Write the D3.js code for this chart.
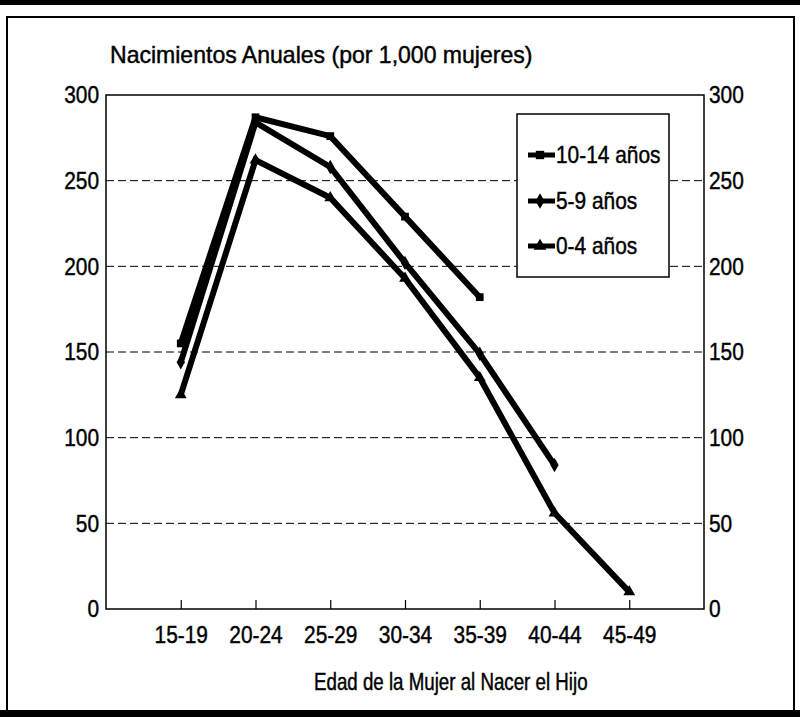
<!DOCTYPE html>
<html><head><meta charset="utf-8">
<script src="https://cdn.jsdelivr.net/npm/d3@7"></script>
<style>body{margin:0;background:#fff}svg{display:block}text{font-family:"Liberation Sans","Arial",sans-serif;fill:#000;stroke:#000;stroke-width:0.45px}</style>
</head><body>
<script>
const categories = ["15-19","20-24","25-29","30-34","35-39","40-44","45-49"];
const s10_14 = [155, 287, 276, 229, 182];
const s5_9 = [144, 284, 258, 202, 149, 84];
const s0_4 = [125, 262, 240, 193, 135, 56, 10];
const yTicks = [0, 50, 100, 150, 200, 250, 300];
const seriesNames = ["10-14 años", "5-9 años", "0-4 años"];
const titleText = "Nacimientos Anuales (por 1,000 mujeres)";
const xTitleText = "Edad de la Mujer al Nacer el Hijo";

const W = 800, H = 717, FS = 24, SX = 0.87;
const svg = d3.select("body").append("svg").attr("width", W).attr("height", H);
const L = 106, R = 704, T = 95, B = 609;
const x = d3.scalePoint().domain(categories).range([L, R]).padding(1);
const y = d3.scaleLinear().domain([0, 300]).range([B, T]);

function condense(sel, sx = SX) {
  sel.each(function() {
    const t = d3.select(this);
    const xv = +t.attr("x") || 0;
    t.attr("x", xv / sx).attr("transform", `scale(${sx},1)`).attr("font-size", FS);
  });
}

// page frame
svg.append("rect").attr("x",0).attr("y",0).attr("width",W).attr("height",5).attr("fill","#000");
svg.append("rect").attr("x",7).attr("y",17).attr("width",787).attr("height",694)
  .attr("fill","none").attr("stroke","#000").attr("stroke-width",2);
svg.append("rect").attr("x",0).attr("y",710).attr("width",W).attr("height",7).attr("fill","#000");

// gridlines
svg.append("g").selectAll("line").data(yTicks.filter(d => d > 0 && d < 300)).join("line")
  .attr("x1", L).attr("x2", R).attr("y1", d => y(d)).attr("y2", d => y(d))
  .attr("stroke","#000").attr("stroke-width",1).attr("stroke-dasharray","8,4");

// plot frame
svg.append("rect").attr("x",L).attr("y",T).attr("width",R-L).attr("height",B-T)
  .attr("fill","none").attr("stroke","#000").attr("stroke-width",1.5);

// axes
const gx = svg.append("g").attr("transform",`translate(0,${B})`)
  .call(d3.axisBottom(x).tickSize(-9).tickPadding(17));
gx.select(".domain").remove();
gx.selectAll("line").attr("stroke","#000").attr("stroke-width",1.2);
gx.selectAll("text").attr("dy","0.71em").call(condense);

const gl = svg.append("g").attr("transform",`translate(${L},0)`)
  .call(d3.axisLeft(y).tickValues(yTicks).tickSize(0).tickPadding(7));
gl.select(".domain").remove();
gl.selectAll("text").call(condense);
const gr = svg.append("g").attr("transform",`translate(${R},0)`)
  .call(d3.axisRight(y).tickValues(yTicks).tickSize(0).tickPadding(5));
gr.select(".domain").remove();
gr.selectAll("text").call(condense);

// titles
svg.append("text").attr("x", 110).attr("y", 63).text(titleText).call(condense, 0.96);
svg.append("text").attr("x", 314).attr("y", 690).text(xTitleText).call(condense, 0.78);

// series
const line = d3.line().x((d,i) => x(categories[i])).y(d => y(d));
const series = [
  {name: seriesNames[0], values: s10_14, sym: d3.symbolSquare},
  {name: seriesNames[1], values: s5_9, sym: d3.symbolDiamond},
  {name: seriesNames[2], values: s0_4, sym: d3.symbolTriangle}
];
series.forEach(s => {
  svg.append("path").datum(s.values).attr("d", line)
    .attr("fill","none").attr("stroke","#000").attr("stroke-width",6).attr("stroke-linejoin","miter");
  svg.append("g").selectAll("path").data(s.values).join("path")
    .attr("transform",(d,i) => `translate(${x(categories[i])},${y(d)})`)
    .attr("d", d3.symbol().type(s.sym).size(60)).attr("fill","#000");
});

// legend
const lg = svg.append("g");
lg.append("rect").attr("x",517).attr("y",114).attr("width",152).attr("height",163)
  .attr("fill","#fff").attr("stroke","#000").attr("stroke-width",1.5);
const ly = [155, 201, 246];
series.forEach((s, i) => {
  lg.append("line").attr("x1",528).attr("x2",555).attr("y1",ly[i]).attr("y2",ly[i])
    .attr("stroke","#000").attr("stroke-width",5);
  lg.append("path").attr("transform",`translate(540,${ly[i]})`)
    .attr("d", d3.symbol().type(s.sym).size(70)).attr("fill","#000");
  lg.append("text").attr("x",556).attr("y",ly[i]).attr("dy","0.35em").text(s.name).call(condense);
});
</script>
</body></html>
